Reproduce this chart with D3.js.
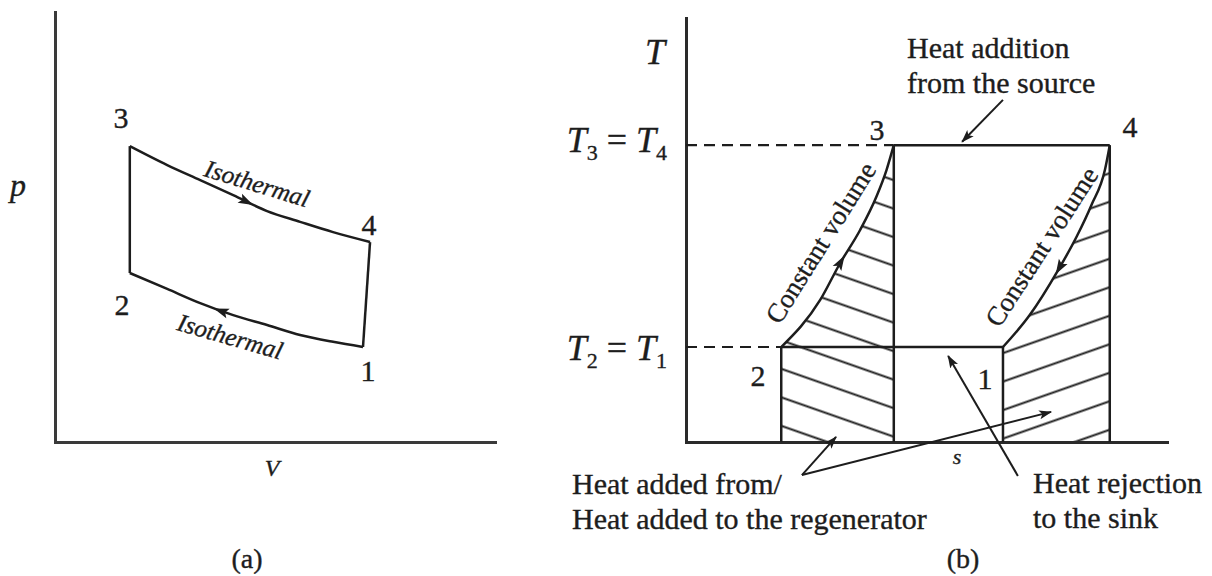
<!DOCTYPE html>
<html>
<head>
<meta charset="utf-8">
<script src="https://cdn.jsdelivr.net/npm/d3@7"></script>
<style>
  html, body { margin: 0; padding: 0; background: #fff; }
  svg { display: block; }
  text { font-family: "Liberation Serif", "Times New Roman", serif; fill: #1d1d1d; stroke: #1d1d1d; stroke-width: 0.35px; }
  .ax .domain { stroke-width: 3; stroke-linecap: square; }
</style>
</head>
<body>
<svg id="fig" width="1212" height="576"></svg>
<script>
// ---------- (a) p–V diagram of the Stirling cycle ----------
// state points (V, p) in arbitrary units
const pvStateIds = ["1", "2", "3", "4"];
const pvStateV   = [7.00, 1.70, 1.70, 7.16];
const pvStateP   = [2.21, 3.93, 6.88, 4.65];
// high-temperature isotherm 3 -> 4
const isoHighV = [1.70, 2.55, 3.30, 4.05, 4.82, 5.57, 6.32, 7.16];
const isoHighP = [6.88, 6.44, 6.09, 5.74, 5.37, 5.12, 4.88, 4.65];
// low-temperature isotherm 2 <- 1
const isoLowV  = [1.70, 2.55, 3.30, 4.05, 4.82, 5.57, 6.32, 7.00];
const isoLowP  = [3.93, 3.56, 3.23, 2.95, 2.72, 2.49, 2.33, 2.21];

// ---------- (b) T–s diagram ----------
const tsStateIds = ["1", "2", "3", "4"];
const tsStateS   = [6.59, 1.98, 4.32, 8.81];
const tsStateT   = [2.24, 2.24, 7.00, 7.00];
// constant-volume heating 2 -> 3
const cvLeftS  = [1.98, 2.79, 3.20, 3.62, 3.96, 4.17, 4.32];
const cvLeftT  = [2.24, 3.35, 4.21, 5.00, 5.79, 6.42, 7.00];
// constant-volume cooling 4 -> 1
const cvRightS = [6.59, 7.15, 7.74, 8.12, 8.43, 8.71, 8.81];
const cvRightT = [2.24, 3.00, 4.06, 4.84, 5.59, 6.42, 7.00];

const ink = "#1d1d1d";
const svg = d3.select("#fig");
const defs = svg.append("defs");

// arrowhead used by the annotation leaders
defs.append("marker")
  .attr("id", "head").attr("viewBox", "-8 -5 14 10")
  .attr("refX", 4).attr("refY", 0)
  .attr("markerWidth", 14).attr("markerHeight", 10)
  .attr("markerUnits", "userSpaceOnUse")
  .attr("orient", "auto")
  .append("path").attr("d", "M5,0 L-8,-4.5 L-5,0 L-8,4.5 Z").attr("fill", ink);

function zip(a, b) { return a.map((v, i) => [v, b[i]]); }
function st(ids, xs, ys, id) { const i = ids.indexOf(id); return [xs[i], ys[i]]; }

// direction arrow placed part-way along a path
function midArrow(g, node, frac, reverse) {
  const L = node.getTotalLength();
  const a = node.getPointAtLength(L * frac);
  const b = node.getPointAtLength(L * frac + (reverse ? -2 : 2));
  const ang = Math.atan2(b.y - a.y, b.x - a.x) * 180 / Math.PI;
  g.append("path")
    .attr("d", "M7,0 L-8,-5 L-5,0 L-8,5 Z")
    .attr("transform", `translate(${a.x},${a.y}) rotate(${ang})`)
    .attr("fill", ink);
}

// ================= (a) =================
const gA = svg.append("g");
const xV = d3.scaleLinear().domain([0, 10]).range([55, 495]);
const yP = d3.scaleLinear().domain([0, 10]).range([442, 12]);

gA.append("g").attr("class", "ax").attr("transform", `translate(0,${yP(0)})`)
  .call(d3.axisBottom(xV).tickValues([]).tickSizeOuter(0));
gA.append("g").attr("class", "ax").attr("transform", `translate(${xV(0)},0)`)
  .call(d3.axisLeft(yP).tickValues([]).tickSizeOuter(0));
gA.selectAll(".ax .domain").attr("stroke", "#3a3a3a");

const linePV = d3.line().x(d => xV(d[0])).y(d => yP(d[1])).curve(d3.curveMonotoneX);
const straightPV = d3.line().x(d => xV(d[0])).y(d => yP(d[1]));

const pv = id => st(pvStateIds, pvStateV, pvStateP, id);
const curveStyle = sel => sel.attr("fill", "none").attr("stroke", ink).attr("stroke-width", 2.5)
  .attr("stroke-linejoin", "round");

const upper = gA.append("path").attr("d", linePV(zip(isoHighV, isoHighP))).call(curveStyle);
const lower = gA.append("path").attr("d", linePV(zip(isoLowV, isoLowP))).call(curveStyle);
gA.append("path").attr("d", straightPV([pv("3"), pv("2")])).call(curveStyle);
gA.append("path").attr("d", straightPV([pv("4"), pv("1")])).call(curveStyle);
midArrow(gA, upper.node(), 0.50, false);
midArrow(gA, lower.node(), 0.40, true);

gA.append("text").attr("x", 18).attr("y", 196).attr("text-anchor", "middle")
  .style("font-style", "italic").style("font-size", "32px").text("p");
gA.append("text").attr("x", 272).attr("y", 476).attr("text-anchor", "middle")
  .style("font-style", "italic").style("font-size", "24px").text("V");
const pvLabelPos = { "3": [121, 128], "4": [369, 235], "2": [122, 315], "1": [368, 381] };
Object.entries(pvLabelPos).forEach(([k, p]) => {
  gA.append("text").attr("x", p[0]).attr("y", p[1]).attr("text-anchor", "middle")
    .style("font-size", "30px").text(k);
});
gA.append("text").attr("transform", "translate(257,184) rotate(17)")
  .attr("text-anchor", "middle").attr("dy", "0.32em")
  .style("font-style", "italic").style("font-size", "25px").text("Isothermal");
gA.append("text").attr("transform", "translate(230,337) rotate(16)")
  .attr("text-anchor", "middle").attr("dy", "0.32em")
  .style("font-style", "italic").style("font-size", "25px").text("Isothermal");
gA.append("text").attr("x", 247).attr("y", 568).attr("text-anchor", "middle")
  .style("font-size", "28px").text("(a)");

// ================= (b) =================
const gB = svg.append("g");
const xS = d3.scaleLinear().domain([0, 10]).range([686, 1167]);
const yT = d3.scaleLinear().domain([0, 10]).range([442, 18]);
const ts = id => st(tsStateIds, tsStateS, tsStateT, id);

const lineTS = d3.line().x(d => xS(d[0])).y(d => yT(d[1])).curve(d3.curveMonotoneX);
const straightTS = d3.line().x(d => xS(d[0])).y(d => yT(d[1]));

// hatch patterns for the regenerator heat areas
function hatch(id, x0, y0, angle) {
  const h = 26.9;
  const p = defs.append("pattern").attr("id", id)
    .attr("patternUnits", "userSpaceOnUse")
    .attr("width", 60).attr("height", h)
    .attr("patternTransform", `translate(${x0},${y0}) rotate(${angle}) translate(0,${-h / 2})`);
  p.append("line").attr("x1", -1).attr("x2", 61).attr("y1", h / 2).attr("y2", h / 2)
    .attr("stroke", ink).attr("stroke-width", 2.1);
}
hatch("hatchL", xS(ts("3")[0]), yT(ts("3")[1]) + 35, 19.3);
hatch("hatchR", xS(ts("4")[0]), yT(ts("4")[1]) + 28, -19.3);

const leftCurve = zip(cvLeftS, cvLeftT);
const rightCurve = zip(cvRightS, cvRightT);
gB.append("path")
  .attr("d", lineTS(leftCurve) + `L${xS(ts("3")[0])},${yT(0)}L${xS(ts("2")[0])},${yT(0)}Z`)
  .attr("fill", "url(#hatchL)");
gB.append("path")
  .attr("d", lineTS(rightCurve) + `L${xS(ts("4")[0])},${yT(0)}L${xS(ts("1")[0])},${yT(0)}Z`)
  .attr("fill", "url(#hatchR)");

// axes
gB.append("g").attr("class", "ax").attr("transform", `translate(0,${yT(0)})`)
  .call(d3.axisBottom(xS).tickValues([]).tickSizeOuter(0));
gB.append("g").attr("class", "ax").attr("transform", `translate(${xS(0)},0)`)
  .call(d3.axisLeft(yT).tickValues([]).tickSizeOuter(0));
gB.selectAll(".ax .domain").attr("stroke", "#2a2a2a");

// dashed temperature guides
["2", "3"].forEach(id => {
  const p = ts(id);
  gB.append("path").attr("d", straightTS([[0, p[1]], p]))
    .attr("stroke", ink).attr("stroke-width", 2.2).attr("stroke-dasharray", "11,7").attr("fill", "none");
});

// cycle boundaries
const segs = [
  [ts("3"), ts("4")], [ts("2"), ts("1")],
  [ts("2"), [ts("2")[0], 0]], [ts("3"), [ts("3")[0], 0]],
  [ts("1"), [ts("1")[0], 0]], [ts("4"), [ts("4")[0], 0]]
];
segs.forEach(s => gB.append("path").attr("d", straightTS(s)).call(curveStyle));
const cvL = gB.append("path").attr("d", lineTS(leftCurve)).call(curveStyle);
const cvR = gB.append("path").attr("d", lineTS(rightCurve)).call(curveStyle);
midArrow(gB, cvL.node(), 0.45, false);
midArrow(gB, cvR.node(), 0.42, true);

// annotation leaders (s, T)
const leaders = [
  [[6.59, 8.07], [5.74, 7.08]],
  [[2.41, -0.78], [3.12, 0.12]],
  [[2.41, -0.78], [7.59, 0.71]],
  [[6.90, -0.80], [5.45, 2.03]]
];
leaders.forEach(l => gB.append("path").attr("d", straightTS(l))
  .attr("stroke", ink).attr("stroke-width", 2).attr("fill", "none")
  .attr("marker-end", "url(#head)"));

// labels
gB.append("text").attr("x", 655).attr("y", 64).attr("text-anchor", "middle")
  .style("font-style", "italic").style("font-size", "36px").text("T");

function tempLabel(y, a, b) {
  const t = gB.append("text").attr("x", 667).attr("y", y).attr("text-anchor", "end")
    .style("font-size", "36px");
  t.append("tspan").style("font-style", "italic").text("T");
  t.append("tspan").attr("dy", 8).style("font-size", "22px").text(a);
  t.append("tspan").attr("dy", -8).text(" = ");
  t.append("tspan").style("font-style", "italic").text("T");
  t.append("tspan").attr("dy", 8).style("font-size", "22px").text(b);
}
tempLabel(152, "3", "4");
tempLabel(360, "2", "1");

const tsLabelPos = { "3": [877, 140], "4": [1130, 137], "2": [758, 386], "1": [985, 389] };
Object.entries(tsLabelPos).forEach(([k, p]) => {
  gB.append("text").attr("x", p[0]).attr("y", p[1]).attr("text-anchor", "middle")
    .style("font-size", "30px").text(k);
});

gB.append("text").attr("transform", "translate(821,243) rotate(-58)")
  .attr("text-anchor", "middle").attr("dy", "0.32em").style("font-size", "27px").text("Constant volume");
gB.append("text").attr("transform", "translate(1042,247) rotate(-57)")
  .attr("text-anchor", "middle").attr("dy", "0.32em").style("font-size", "27px").text("Constant volume");

function block(x, y, lines) {
  lines.forEach((s, i) => gB.append("text").attr("x", x).attr("y", y + i * 35)
    .style("font-size", "30px").text(s));
}
block(907, 58, ["Heat addition", "from the source"]);
block(572, 494, ["Heat added from/", "Heat added to the regenerator"]);
block(1033, 493, ["Heat rejection", "to the sink"]);

gB.append("text").attr("x", 957).attr("y", 464).attr("text-anchor", "middle")
  .style("font-style", "italic").style("font-size", "22px").text("s");
gB.append("text").attr("x", 963).attr("y", 568).attr("text-anchor", "middle")
  .style("font-size", "28px").text("(b)");
</script>
</body>
</html>
